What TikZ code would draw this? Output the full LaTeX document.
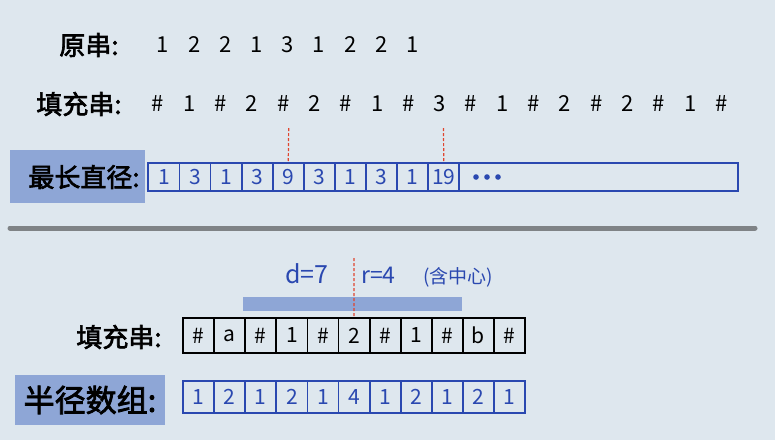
\documentclass[tikz,border=0pt]{standalone}
\usepackage{fontspec}
\setmainfont{Noto Sans CJK SC}
\newfontfamily\cjk[AutoFakeBold=2.5]{Noto Sans CJK SC}
\definecolor{paper}{HTML}{DEE7EE}
\definecolor{ink}{HTML}{2A48B0}
\definecolor{hl}{HTML}{8EA6D6}
\definecolor{sep}{HTML}{7F8386}
\definecolor{redd}{HTML}{E0452E}
\tikzset{
  lbl/.style={font=\cjk\bfseries\fontsize{26}{26}\selectfont, text=black, inner sep=0pt},
  biglbl/.style={font=\cjk\bfseries\fontsize{31}{31}\selectfont, text=black, inner sep=0pt},
  hand/.style={font=\fontsize{22}{22}\selectfont, text=black, inner sep=0pt},
  bcell/.style={draw=ink, line width=1.8pt, text=ink, minimum width=31.1pt, minimum height=28pt, inner sep=0pt, font=\fontsize{21}{21}\selectfont},
  kcell/.style={draw=black, line width=1.8pt, text=black, minimum width=31.1pt, minimum height=35pt, inner sep=0pt, font=\fontsize{21}{21}\selectfont},
  rcell/.style={draw=ink, line width=1.8pt, text=ink, minimum width=31.1pt, minimum height=32pt, inner sep=0pt, font=\fontsize{21}{21}\selectfont},
  reddash/.style={draw=redd, line width=1.2pt, dashed, dash pattern=on 3pt off 2pt},
  bluetxt/.style={text=ink, inner sep=0pt}
}
\begin{document}
\begin{tikzpicture}[x=1pt,y=-1pt]
\fill[paper] (0,0) rectangle (775,440);
\useasboundingbox (0,0) rectangle (775,440);

% top: original string
\node[lbl] (orig) at (89,45) {原串:};
\foreach \v [count=\i] in {1,2,2,1,3,1,2,2,1}
  \node[hand] (o\i) at ({163+(\i-1)*31.2},45) {\v};

% filled string
\node[lbl] (fillA) at (79,104) {填充串:};
\foreach \v [count=\i] in {\#,1,\#,2,\#,2,\#,1,\#,3,\#,1,\#,2,\#,2,\#,1,\#}
  \node[hand] (f\i) at ({158+(\i-1)*31.3},104) {\v};

% longest diameter
\fill[hl] (10,150) rectangle (145,203);
\node[lbl] (diam) at (84,177) {最长直径:};
\draw[draw=ink, line width=1.8pt] (148.3,163) rectangle (738,191);
\foreach \v [count=\i] in {1,3,1,3,9,3,1,3,1,19}
  \node[bcell] (c\i) at ({148.3+15.55+(\i-1)*31.1},177) {\v};
\foreach \k in {0,1,2}
  \fill[ink] ({476+\k*11},177) circle (2.8);
\coordinate (rA) at (288.7,128);
\coordinate (rB) at (443.5,128);
\draw[reddash] (rA) -- (c5.north);
\draw[reddash] (rB) -- (c10.north);

% separator
\draw[sep, line width=5pt, line cap=round] (10,228) -- (755,228);

% bottom
\node[bluetxt, font=\fontsize{25}{25}\selectfont] (dlab) at (307,274) {d=7};
\node[bluetxt, font=\fontsize{23}{23}\selectfont, anchor=west] (rlab) at (361,275) {r=4};
\node[bluetxt, font=\cjk\fontsize{19}{19}\selectfont, anchor=west] (rnote) at (423,277) {(含中心)};
\fill[hl] (243,297) rectangle (462,311);

\node[lbl] (fillB) at (119,337) {填充串:};
\foreach \v [count=\i] in {\#,a,\#,1,\#,2,\#,1,\#,b,\#}
  \node[kcell] (k\i) at ({183+15.55+(\i-1)*31.1},335.5) {\v};
\coordinate (rC) at (354,258);
\draw[reddash] (rC) -- (k6.north);

\fill[hl] (15,375) rectangle (165,425);
\node[biglbl] (rad) at (90,400) {半径数组:};
\foreach \v [count=\i] in {1,2,1,2,1,4,1,2,1,2,1}
  \node[rcell] (p\i) at ({183+15.55+(\i-1)*31.1},397) {\v};
\end{tikzpicture}
\end{document}
